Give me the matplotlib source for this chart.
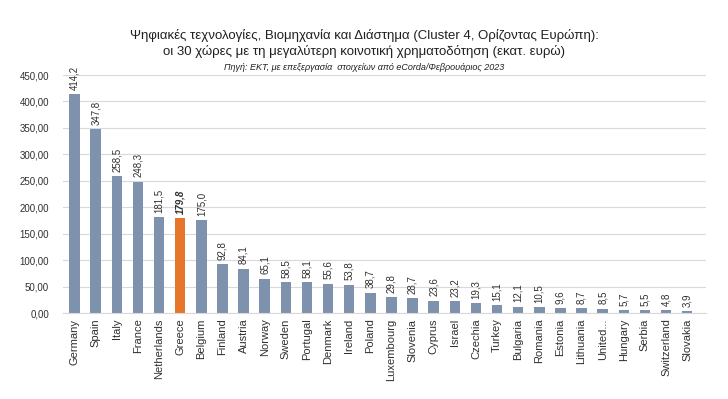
import numpy as np
import matplotlib.pyplot as plt
from matplotlib.ticker import FuncFormatter

countries = ['Germany', 'Spain', 'Italy', 'France', 'Netherlands', 'Greece', 'Belgium',
             'Finland', 'Austria', 'Norway', 'Sweden', 'Portugal', 'Denmark', 'Ireland',
             'Poland', 'Luxembourg', 'Slovenia', 'Cyprus', 'Israel', 'Czechia', 'Turkey',
             'Bulgaria', 'Romania', 'Estonia', 'Lithuania', 'United...', 'Hungary',
             'Serbia', 'Switzerland', 'Slovakia']
funding = [414.2, 347.8, 258.5, 248.3, 181.5, 179.8, 175.0, 92.8, 84.1, 65.1, 58.5,
           58.1, 55.6, 53.8, 38.7, 29.8, 28.7, 23.6, 23.2, 19.3, 15.1, 12.1, 10.5,
           9.6, 8.7, 8.5, 5.7, 5.5, 4.8, 3.9]
highlight = 'Greece'

title_1 = 'Ψηφιακές τεχνολογίες, Βιομηχανία και Διάστημα (Cluster 4, Ορίζοντας Ευρώπη):'
title_2 = 'οι 30 χώρες με τη μεγαλύτερη κοινοτική χρηματοδότηση (εκατ. ευρώ)'
source = 'Πηγή: ΕΚΤ, με επεξεργασία  στοιχείων από eCorda/Φεβρουάριος 2023'

plt.rcParams['font.family'] = ['Liberation Sans', 'DejaVu Sans']

fig = plt.figure(figsize=(7.28, 3.99), dpi=100)
ax = fig.add_axes([0.0865, 0.2155, 0.8835, 0.5965])

x = np.arange(len(countries))
colors = ['#E8762A' if c == highlight else '#7E92AD' for c in countries]
ax.bar(x, funding, width=0.5, color=colors, zorder=2)

for xi, v, c in zip(x, funding, countries):
    bold = c == highlight
    ax.text(xi, v + 8, f'{v:.1f}'.replace('.', ','), rotation=90, ha='center', va='bottom',
            fontsize=7, color='#303030',
            fontweight='bold' if bold else 'normal',
            fontstyle='italic' if bold else 'normal')

ax.set_ylim(0, 450)
ax.set_yticks(np.arange(0, 451, 50))
ax.yaxis.set_major_formatter(FuncFormatter(lambda v, p: f'{v:.2f}'.replace('.', ',')))
ax.set_xlim(-0.55, len(countries) - 0.1)
ax.set_xticks(x)
ax.set_xticklabels(countries, rotation=90, fontsize=8, color='#303030')
ax.tick_params(axis='y', labelsize=7, colors='#303030', length=0, pad=10)
ax.tick_params(axis='x', length=0, pad=4)
ax.grid(axis='y', color='#D9D9D9', linewidth=0.8, zorder=0)
for s in ['top', 'right', 'left']:
    ax.spines[s].set_visible(False)
ax.spines['bottom'].set_color('#D9D9D9')

fig.text(0.5, 0.91, title_1, ha='center', va='center', fontsize=9.5, color='#202020')
fig.text(0.5, 0.87, title_2, ha='center', va='center', fontsize=9.5, color='#202020')
fig.text(0.5, 0.832, source, ha='center', va='center', fontsize=6.5, style='italic',
         color='#202020')

fig.savefig('out.png', dpi=100)
